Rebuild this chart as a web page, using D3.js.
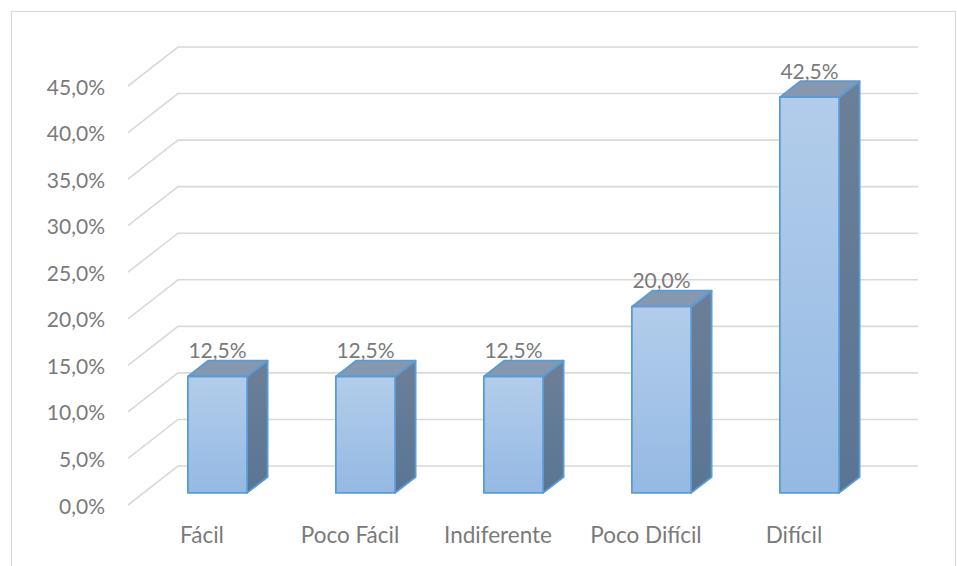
<!DOCTYPE html>
<html>
<head>
<meta charset="utf-8">
<script src="https://cdn.jsdelivr.net/npm/d3@7/dist/d3.min.js"></script>
<style>
  html, body { margin: 0; padding: 0; background: #ffffff; }
  svg { display: block; }
</style>
</head>
<body>
<script>
const categories = ["Fácil", "Poco Fácil", "Indiferente", "Poco Difícil", "Difícil"];
const values = [0.125, 0.125, 0.125, 0.20, 0.425];
const tickValues = [0, 0.05, 0.10, 0.15, 0.20, 0.25, 0.30, 0.35, 0.40, 0.45];

const W = 957, H = 566;
const fmt = v => d3.format(".1%")(v).replace(".", ",");

const svg = d3.select("body").append("svg").attr("width", W).attr("height", H);

// outer chart border
svg.append("rect").attr("x", 11.5).attr("y", 11.5).attr("width", 944).attr("height", 570)
  .attr("fill", "none").attr("stroke", "#d9d9d9").attr("stroke-width", 1.2);

// oblique 3D projection
const depthDX = 50, depthDY = -39;
const zFront = 0.31, zBack = 0.72;
const x = d3.scaleBand().domain(categories).range([128, 868]);
const y = d3.scaleLinear().domain([0, 0.45]).range([505, 86]);
const proj = (px, v, z) => [px + z * depthDX, y(v) + z * depthDY];

const defs = svg.append("defs");
const gFront = defs.append("linearGradient").attr("id", "gFront").attr("x1", 0).attr("y1", 0).attr("x2", 0).attr("y2", 1);
gFront.append("stop").attr("offset", "0%").attr("stop-color", "#b2cdea");
gFront.append("stop").attr("offset", "100%").attr("stop-color", "#95b9e4");
const gSide = defs.append("linearGradient").attr("id", "gSide").attr("x1", 0).attr("y1", 0).attr("x2", 0).attr("y2", 1);
gSide.append("stop").attr("offset", "0%").attr("stop-color", "#6c7f98");
gSide.append("stop").attr("offset", "100%").attr("stop-color", "#5a7594");

// gridlines: diagonal on side wall + horizontal on back wall
const grid = svg.append("g");
tickValues.forEach(v => {
  const f = proj(x.range()[0], v, 0);
  const b = proj(x.range()[0], v, 1);
  const e = proj(x.range()[1], v, 1);
  grid.append("path")
    .attr("d", `M${f[0]},${f[1]}L${b[0]},${b[1]}L${e[0]},${e[1]}`)
    .attr("fill", "none").attr("stroke", "#d9d9d9").attr("stroke-width", 1.6);
});

const FONT = "Lato, 'Open Sans', sans-serif";
const TXT = "#7a7a7a";

// y axis labels
svg.append("g").selectAll("text").data(tickValues).join("text")
  .attr("x", 105).attr("y", d => y(d) + 8.5)
  .attr("text-anchor", "end")
  .attr("font-family", FONT).attr("font-size", 21)
  .attr("fill", TXT)
  .text(fmt);

// bars
const barW = x.bandwidth() * 0.4;
const bars = svg.append("g");
categories.forEach((c, i) => {
  const v = values[i];
  const xl = x(c) + (x.bandwidth() - barW) / 2;
  const xr = xl + barW;
  const fbl = proj(xl, 0, zFront), fbr = proj(xr, 0, zFront);
  const ftl = proj(xl, v, zFront), ftr = proj(xr, v, zFront);
  const bbr = proj(xr, 0, zBack), btr = proj(xr, v, zBack), btl = proj(xl, v, zBack);
  const g = bars.append("g").attr("stroke", "#5b9bd5").attr("stroke-width", 1.8).attr("stroke-linejoin", "round");
  g.append("path").attr("d", `M${fbr}L${bbr}L${btr}L${ftr}Z`).attr("fill", "url(#gSide)");
  g.append("path").attr("d", `M${ftl}L${ftr}L${btr}L${btl}Z`).attr("fill", "#8598b0");
  g.append("path").attr("d", `M${fbl}L${fbr}L${ftr}L${ftl}Z`).attr("fill", "url(#gFront)");
  svg.append("text")
    .attr("x", (xl + xr) / 2 + zFront * depthDX)
    .attr("y", ftl[1] - 18.5)
    .attr("text-anchor", "middle")
    .attr("font-family", FONT).attr("font-size", 21)
    .attr("fill", TXT)
    .text(fmt(v));
});

// x axis labels
svg.append("g").selectAll("text").data(categories).join("text")
  .attr("x", d => x(d) + x.bandwidth() / 2)
  .attr("y", 543)
  .attr("text-anchor", "middle")
  .attr("font-family", FONT).attr("font-size", 22.5)
  .attr("fill", TXT)
  .text(d => d);
</script>
</body>
</html>
